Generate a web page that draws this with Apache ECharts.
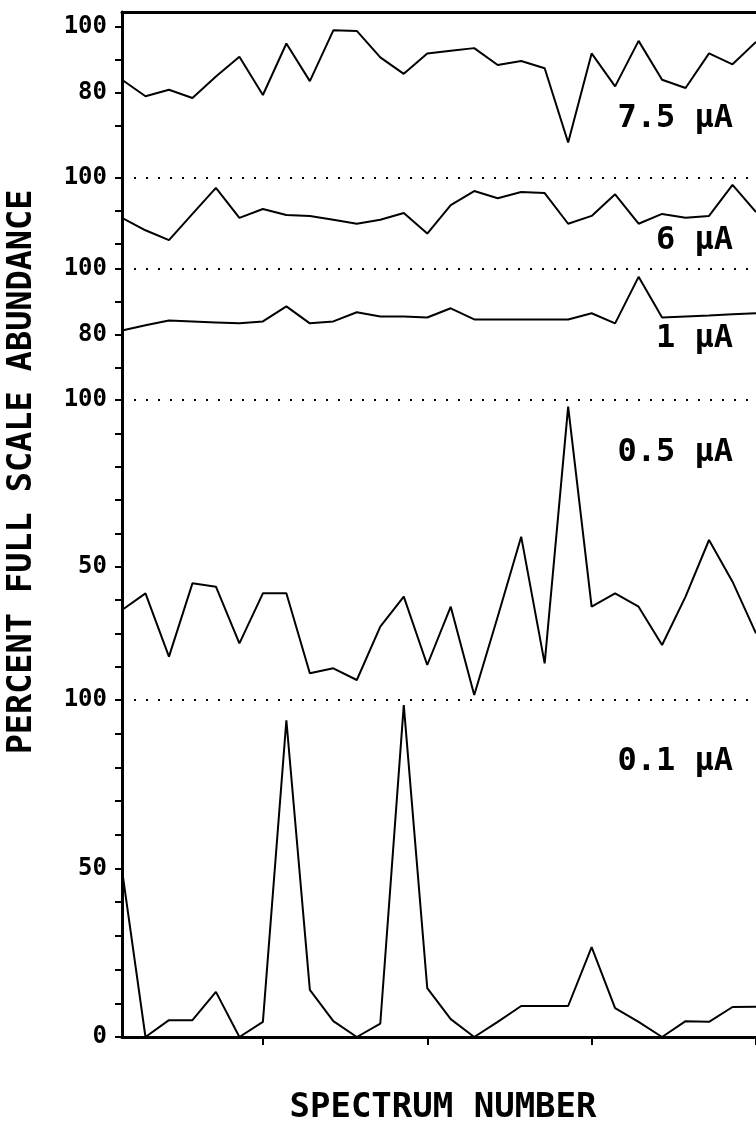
<!DOCTYPE html>
<html>
<head>
<meta charset="utf-8">
<script src="https://cdn.jsdelivr.net/npm/echarts@6/dist/echarts.min.js"></script>
<style>
html,body{margin:0;padding:0;background:#fff;}
#chart{width:756px;height:1123px;}
</style>
</head>
<body>
<div id="chart"></div>
<script>
// Spectrum numbers (x values)
const spectra = [1,2,3,4,5,6,7,8,9,10,11,12,13,14,15,16,17,18,19,20,21,22,23,24,25,26,27,28];
const xTicks = [7,14,21,28];

// Percent full scale abundance for each current
const ua75 = [84,79,81,78.5,85,91,79.4,95,83.6,99,98.8,90.8,85.8,92,92.8,93.6,88.5,89.7,87.5,65,92,82,95.8,84,81.5,92,88.7,95.5];
const ua6  = [87.8,84,81,89,97,87.8,90.5,88.7,88.4,87.2,86,87.2,89.3,83,91.7,96,93.8,95.7,95.4,86,88.4,95,86,89,87.8,88.4,97.9,89.6];
const ua1  = [81.2,82.8,84.3,84,83.7,83.4,84,88.6,83.4,84,86.8,85.5,85.5,85.2,88,84.6,84.6,84.6,84.6,84.6,86.5,83.4,97.6,85.2,85.5,85.8,86.2,86.5];
const ua05 = [37,42,23,45,44,27,42,42,18,19.5,16,32,41,20.5,38,11.5,35,59,21,98,38,42,38,26.5,41,58,45.5,30];
const ua01 = [49.6,0,5,5,13.4,0,4.5,94,14,4.7,0,4,98.5,14.5,5.3,0,4.5,9.2,9.2,9.2,26.7,8.6,4.5,0,4.7,4.5,8.9,9];

// Panel labels and y-axis tick/label values
const panelNames = ['7.5 µA','6 µA','1 µA','0.5 µA','0.1 µA'];
const panelData = [ua75, ua6, ua1, ua05, ua01];
const yRanges = [[60,100],[70,100],[60,100],[10,100],[0,100]];
const yTickVals = [[70,80,90,100],[80,90,100],[70,80,90,100],[20,30,40,50,60,70,80,90,100],[0,10,20,30,40,50,60,70,80,90,100]];
const yLabelVals = [[80,100],[100],[80,100],[50,100],[0,50,100]];
const dottedAt100 = [false,true,true,true,true];
const yTitle = 'PERCENT FULL SCALE ABUNDANCE';
const xTitle = 'SPECTRUM NUMBER';

// layout (pixels)
const gridTops = [27,178,269,400,700];
const gridHeights = [132,98,131,300,337];
const labelY = [119,241,339,453,762];
const LEFT = 122, RIGHT = 0;
const FONT = 'DejaVu Sans Mono';

const chart = echarts.init(document.getElementById('chart'), null, {renderer:'canvas'});

const grids = [], xAxes = [], yAxes = [], series = [];
// frame grid (index 0)
grids.push({left:LEFT, right:RIGHT, top:12, bottom:1123-1037});
xAxes.push({type:'value', gridIndex:0, min:1, max:28, position:'bottom',
  axisLine:{show:true, onZero:false, lineStyle:{color:'#000', width:3}},
  axisTick:{show:true, customValues:xTicks, length:8, lineStyle:{color:'#000', width:2}},
  axisLabel:{show:false}, splitLine:{show:false}});
xAxes.push({type:'value', gridIndex:0, min:1, max:28, position:'top',
  axisLine:{show:true, onZero:false, lineStyle:{color:'#000', width:3}},
  axisTick:{show:false}, axisLabel:{show:false}, splitLine:{show:false}});
yAxes.push({type:'value', gridIndex:0, min:0, max:1,
  axisLine:{show:true, onZero:false, lineStyle:{color:'#000', width:3}},
  axisTick:{show:false}, axisLabel:{show:false}, splitLine:{show:false}});

panelData.forEach((d, i) => {
  const g = i + 1;
  grids.push({left:LEFT, right:RIGHT, top:gridTops[i], height:gridHeights[i]});
  xAxes.push({type:'value', gridIndex:g, min:1, max:28, show:false});
  yAxes.push({type:'value', gridIndex:g, min:yRanges[i][0], max:yRanges[i][1],
    axisLine:{show:false},
    axisTick:{show:true, customValues:yTickVals[i], length:7, lineStyle:{color:'#000', width:2}},
    axisLabel:{show:true, customValues:yLabelVals[i], margin:15, color:'#000',
      fontFamily:FONT, fontWeight:'bold', fontSize:24},
    splitLine:{show:false}});
  const s = {
    type:'line', xAxisIndex:g+1, yAxisIndex:g, clip:false,
    data: spectra.map((x, k) => [x, d[k]]),
    symbol:'none', lineStyle:{color:'#000', width:2}, animation:false
  };
  if (dottedAt100[i]) {
    s.markLine = {silent:true, symbol:['none','none'], label:{show:false}, animation:false,
      lineStyle:{color:'#000', width:2, type:[2,10]},
      data:[{yAxis:100}]};
  }
  series.push(s);
});

const graphics = panelNames.map((t, i) => ({
  type:'text', x:733, y:labelY[i],
  style:{text:t, font:'bold 32px "' + FONT + '"', fill:'#000', align:'right', verticalAlign:'middle'}
}));
graphics.push({type:'text', x:22, y:472, rotation:Math.PI/2,
  style:{text:yTitle, font:'bold 33.5px "' + FONT + '"', fill:'#000', align:'center', verticalAlign:'middle'}});
graphics.push({type:'text', x:443, y:1108,
  style:{text:xTitle, font:'bold 34px "' + FONT + '"', fill:'#000', align:'center', verticalAlign:'middle'}});

chart.setOption({
  animation:false,
  backgroundColor:'#fff',
  grid:grids, xAxis:xAxes, yAxis:yAxes, series:series, graphic:graphics
});
</script>
</body>
</html>
